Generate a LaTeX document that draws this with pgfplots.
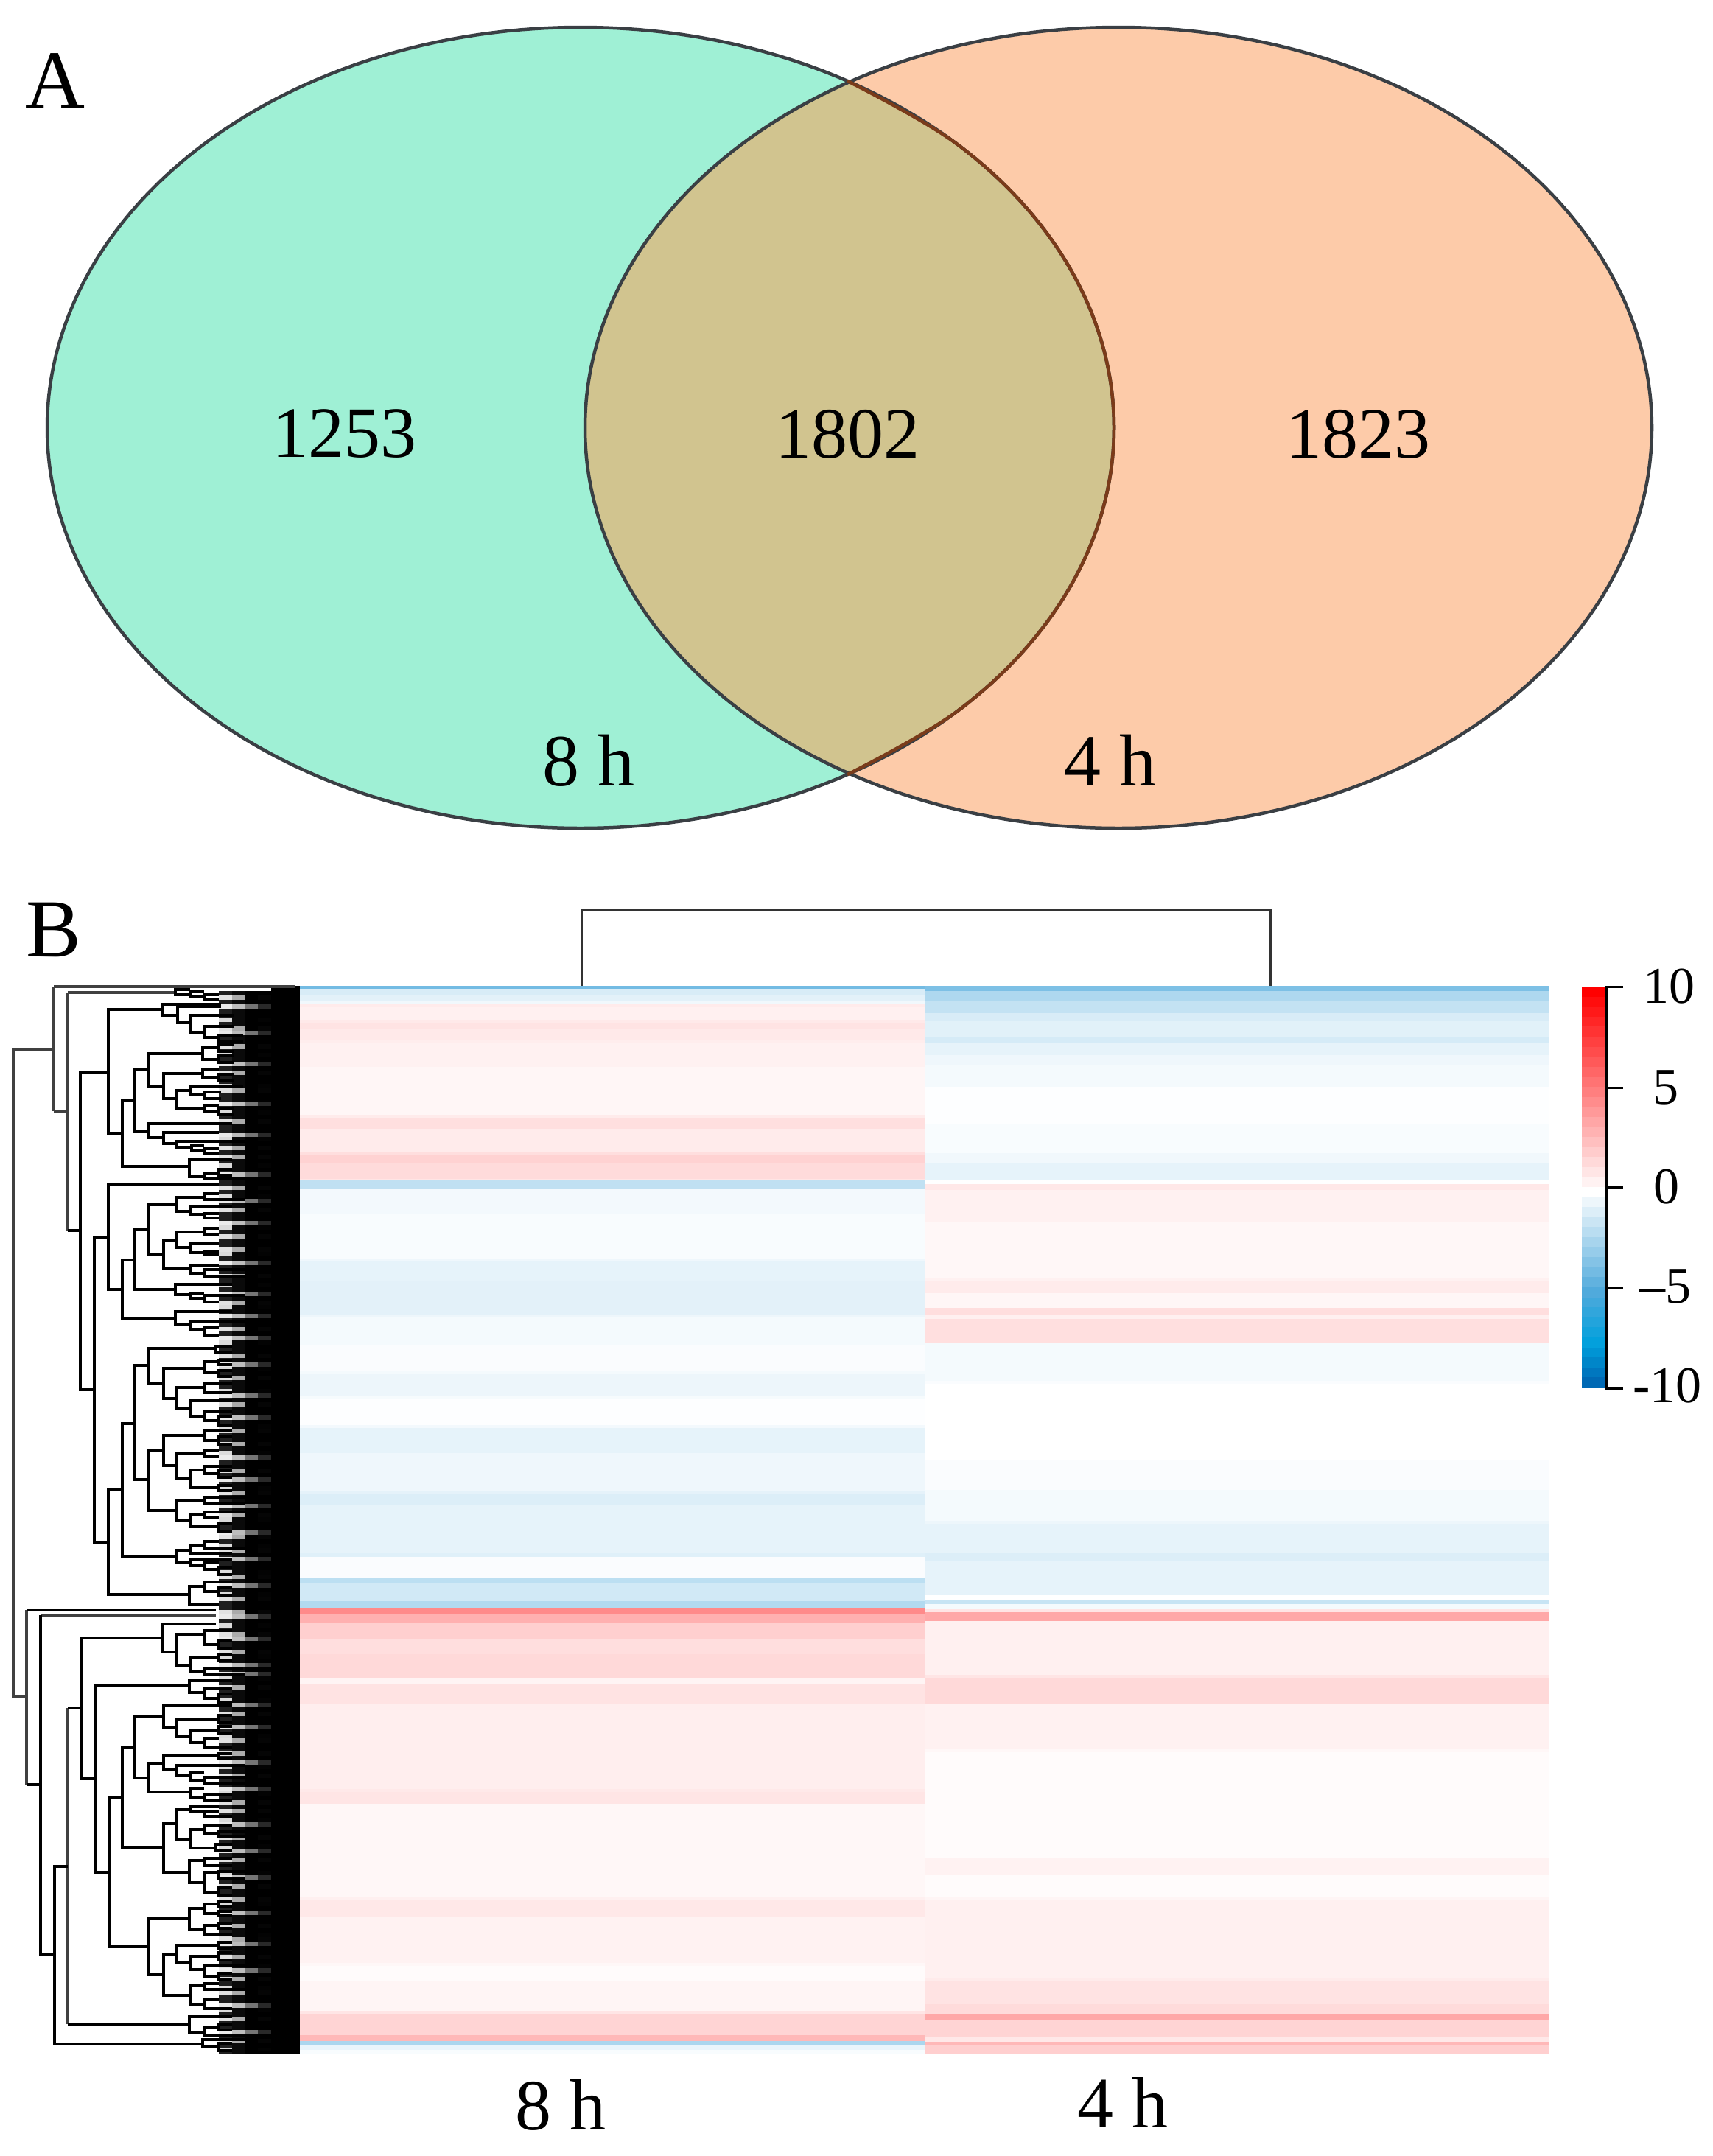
\documentclass[border=0pt]{standalone}
\usepackage{fontspec}
\setmainfont{Liberation Serif}
\usepackage{pgfplots}
\usepackage{pgfplotstable}
\pgfplotsset{compat=1.18}

\definecolor{vennL}{HTML}{9FF0D5}
\definecolor{vennR}{HTML}{FDCBA9}
\definecolor{vennM}{HTML}{D1C48F}
\definecolor{vennE}{HTML}{3A3F44}
\definecolor{vennB}{HTML}{7A3B1A}

% grey scales for the leaf streaks of the row dendrogram
\pgfplotsset{
  colormap={leafA}{gray(0pt)=(.12); gray(3pt)=(.12); gray(5pt)=(.85); gray(20pt)=(.92)},
  colormap={leafB}{gray(0pt)=(.04); gray(8pt)=(.04); gray(12pt)=(.66); gray(20pt)=(.74)},
  colormap={leafC}{gray(0pt)=(0); gray(14pt)=(0); gray(18pt)=(.4); gray(20pt)=(.46)},
  colormap={leafD}{gray(0pt)=(0); gray(14pt)=(.02); gray(18pt)=(.12); gray(20pt)=(.16)},
}

% heatmap bands: y = top of the band, v = value
\pgfplotstableread{
y v
1338 -4
1342 -1.1
1350 -0.8
1358 -0.4
1363 0.8
1367 0.6
1384 0.85
1388 1.1
1397 0.85
1411 0.7
1415 0.55
1448 0.35
1513 0.8
1517 1.25
1532 0.8
1564 1.3
1568 1.75
1578 1.4
1600 1
1602 -1.8
1613 -0.35
1648 -0.2
1708 -0.45
1712 -0.7
1738 -0.8
1784 -0.5
1788 -0.3
1825 -0.15
1861 -0.3
1865 -0.5
1894 -0.25
1898 -0.05
1934 -0.35
1938 -0.7
1972 -0.45
2024 -0.75
2028 -1
2042 -0.7
2108 -0.9
2113 -0.15
2142 -1.9
2148 -1.3
2173 -2.2
2182 4.6
2190 3.1
2202 1.9
2225 1.3
2245 1.5
2277 0.45
2286 1.1
2312 0.65
2428 0.85
2432 1
2448 0.3
2574 0.6
2578 0.9
2602 0.5
2664 0.3
2668 0.15
2688 0.4
2729 1
2733 1.7
2762 2.8
2770 -2.4
2775 -0.6
2782 -0.2
2788 0
}\heatA
\pgfplotstableread{
y v
1338 -3.7
1345 -2.3
1358 -1.7
1375 -1.1
1385 -0.85
1408 -1.2
1415 -0.7
1432 -0.45
1445 -0.3
1475 -0.05
1525 -0.2
1565 -0.4
1578 -0.7
1602 0
1607 0.9
1615 0.55
1658 0.3
1734 0.55
1738 0.8
1755 0.35
1775 1.3
1785 0.6
1790 1.25
1822 -0.3
1874 -0.15
1878 0
1982 -0.15
2022 -0.3
2064 -0.5
2068 -0.7
2108 -1
2118 -0.7
2165 0
2172 -1.6
2177 -0.3
2183 1
2188 3.4
2200 0.6
2273 1
2277 1.5
2312 0.55
2374 0.3
2378 0.15
2522 0.5
2545 0.15
2574 0.4
2578 0.6
2684 0.8
2688 1.1
2720 1.4
2733 3.4
2741 1.7
2765 0.9
2771 2.8
2775 1.9
2788 1.9
}\heatB

% colour scale beside the heatmap
\pgfplotstableread[row sep=\\]{
y v\\
1339 10\\1352.6 9.5\\1366.2 9\\1379.8 8.5\\1393.4 8\\1407 7.5\\1420.6 7\\1434.2 6.5\\1447.8 6\\1461.4 5.5\\1475 5\\1488.6 4.5\\1502.2 4\\1515.8 3.5\\1529.4 3\\1543 2.5\\1556.6 2\\1570.2 1.5\\1583.8 1\\1597.4 0.5\\1611 0\\1624.6 -0.5\\1638.2 -1\\1651.8 -1.5\\1665.4 -2\\1679 -2.5\\1692.6 -3\\1706.2 -3.5\\1719.8 -4\\1733.4 -4.5\\1747 -5\\1760.6 -5.5\\1774.2 -6\\1787.8 -6.5\\1801.4 -7\\1815 -7.5\\1828.6 -8\\1842.2 -8.5\\1855.8 -9\\1869.4 -9.5\\1884 -10\\
}\scalebar

% streaks among the leaves: y, and how far to the right the gap runs
\pgfplotstableread[row sep=\\]{
y v\\
1345 -10\\1351 3\\1357 -10\\1363 10\\1369 -10\\1375 -10\\1381 -3\\1387 -10\\1393 3\\1399 10\\1405 -10\\1411 -10\\1417 3\\1423 -10\\1429 -3\\1435 -10\\1441 10\\1447 -10\\1453 3\\1459 -10\\1465 -10\\1471 -3\\1477 3\\1483 -10\\1489 -10\\1495 10\\1501 -10\\1507 -3\\1513 -10\\1519 3\\1525 -10\\1531 -10\\1537 10\\1543 -3\\1549 -10\\1555 3\\1561 -10\\
1567 3\\1573 -10\\1579 -3\\1585 -10\\1591 10\\1597 -10\\1603 -10\\1609 3\\1615 -10\\1621 -3\\1627 10\\1633 -10\\1639 3\\1645 -10\\1651 -10\\1657 10\\1663 -3\\1669 -10\\1675 3\\1681 -10\\1687 -10\\1693 3\\1699 -3\\1705 -10\\1711 10\\1717 -10\\1723 -10\\1729 3\\1735 -10\\1741 -3\\1747 -10\\1753 10\\1759 -10\\1765 3\\1771 -3\\1777 -10\\1783 10\\
1789 -10\\1795 -10\\1801 3\\1807 -10\\1813 10\\1819 -3\\1825 -10\\1831 -10\\1837 3\\1843 -10\\1849 10\\1855 -3\\1861 -10\\1867 3\\1873 -10\\1879 -10\\1885 -3\\1891 10\\1897 -10\\1903 3\\1909 -10\\1915 -10\\1921 10\\1927 -10\\1933 -3\\1939 3\\1945 -10\\1951 -10\\1957 3\\1963 -10\\1969 -3\\1975 10\\1981 -10\\1987 -10\\1993 3\\1999 -10\\2005 10\\
2011 -10\\2017 -3\\2023 3\\2029 -10\\2035 -10\\2041 10\\2047 -10\\2053 3\\2059 -3\\2065 -10\\2071 -10\\2077 10\\2083 3\\2089 -10\\2095 -3\\2101 3\\2107 -10\\2113 10\\2119 -10\\2125 -10\\2131 -3\\2137 3\\2143 -10\\2149 10\\2155 -10\\2161 -3\\2167 3\\2173 -10\\2179 -10\\2185 3\\2191 10\\2197 -10\\2203 -3\\2209 -10\\2215 3\\2221 10\\2227 -10\\
2233 -10\\2239 3\\2245 -3\\2251 -10\\2257 10\\2263 -10\\2269 10\\2275 -3\\2281 -10\\2287 3\\2293 -10\\2299 -10\\2305 -3\\2311 10\\2317 -10\\2323 3\\2329 -10\\2335 -10\\2341 10\\2347 -10\\2353 -3\\2359 3\\2365 -10\\2371 -10\\2377 3\\2383 -10\\2389 10\\2395 -3\\2401 -10\\2407 3\\2413 -10\\2419 -10\\2425 10\\2431 -3\\2437 -10\\2443 3\\2449 -10\\
2455 3\\2461 -10\\2467 -3\\2473 10\\2479 -10\\2485 -10\\2491 3\\2497 -10\\2503 -3\\2509 10\\2515 -10\\2521 3\\2527 -10\\2533 -10\\2539 -3\\2545 10\\2551 -10\\2557 3\\2563 -10\\2569 -10\\2575 3\\2581 -3\\2587 -10\\2593 10\\2599 -10\\2605 -10\\2611 3\\2617 -10\\2623 -3\\2629 3\\2635 10\\2641 -10\\2647 -10\\2653 3\\2659 -10\\2665 -3\\2671 10\\
2677 -10\\2683 3\\2689 -10\\2695 -3\\2701 3\\2707 -10\\2713 -10\\2719 10\\2725 -3\\2731 -10\\2737 3\\2743 -10\\2749 -10\\2755 10\\2761 -10\\2767 3\\2773 -10\\2779 -3\\2783 -10\\2787 -10\\
}\leafs

\begin{document}
\begin{tikzpicture}
\begin{axis}[
    name=main,
    scale only axis, width=2325pt, height=2926pt,
    xmin=0, xmax=2325, ymin=0, ymax=2926, y dir=reverse,
    hide axis, clip=false,
    unbounded coords=jump,
    colormap={heat}{rgb255(0pt)=(0,90,170); rgb255(2.4pt)=(0,160,220); rgb255(5pt)=(80,170,220); rgb255(10pt)=(255,255,255); rgb255(20pt)=(255,0,0)},
    point meta min=-10, point meta max=10,
]

% venn
\addplot[fill=vennL, draw=none, smooth cycle, tension=0.61] coordinates {
(1512,580.5)(1487.3,439.8)(1415,308.7)(1299.9,196.2)(1150,109.8)(975.4,55.5)(788,37)(600.6,55.5)(426,109.8)(276.1,196.2)(161,308.7)(88.7,439.8)(64,580.5)(88.7,721.2)(161,852.3)(276.1,964.8)(426,1051.2)(600.6,1105.5)(788,1124)(975.4,1105.5)(1150,1051.2)(1299.9,964.8)(1415,852.3)(1487.3,721.2)};
\addplot[fill=vennR, draw=none, smooth cycle, tension=0.61] coordinates {
(2242,580.5)(2217.3,439.8)(2145,308.7)(2029.9,196.2)(1880,109.8)(1705.4,55.5)(1518,37)(1330.6,55.5)(1156,109.8)(1006.1,196.2)(891,308.7)(818.7,439.8)(794,580.5)(818.7,721.2)(891,852.3)(1006.1,964.8)(1156,1051.2)(1330.6,1105.5)(1518,1124)(1705.4,1105.5)(1880,1051.2)(2029.9,964.8)(2145,852.3)(2217.3,721.2)};
\addplot[fill=vennM, draw=vennM, line width=1pt, smooth, tension=0.61] coordinates {
(1150,109.8)(1299.9,196.2)(1415,308.7)(1487.3,439.8)(1512,580.5)(1487.3,721.2)(1415,852.3)(1299.9,964.8)(1150,1051.2)};
\addplot[fill=vennM, draw=vennM, line width=1pt, smooth, tension=0.61] coordinates {
(1156,109.8)(1006.1,196.2)(891,308.7)(818.7,439.8)(794,580.5)(818.7,721.2)(891,852.3)(1006.1,964.8)(1156,1051.2)};
\addplot[draw=vennE, line width=4.5pt, smooth cycle, tension=0.61] coordinates {
(1512,580.5)(1487.3,439.8)(1415,308.7)(1299.9,196.2)(1150,109.8)(975.4,55.5)(788,37)(600.6,55.5)(426,109.8)(276.1,196.2)(161,308.7)(88.7,439.8)(64,580.5)(88.7,721.2)(161,852.3)(276.1,964.8)(426,1051.2)(600.6,1105.5)(788,1124)(975.4,1105.5)(1150,1051.2)(1299.9,964.8)(1415,852.3)(1487.3,721.2)};
\addplot[draw=vennE, line width=4.5pt, smooth cycle, tension=0.61] coordinates {
(2242,580.5)(2217.3,439.8)(2145,308.7)(2029.9,196.2)(1880,109.8)(1705.4,55.5)(1518,37)(1330.6,55.5)(1156,109.8)(1006.1,196.2)(891,308.7)(818.7,439.8)(794,580.5)(818.7,721.2)(891,852.3)(1006.1,964.8)(1156,1051.2)(1330.6,1105.5)(1518,1124)(1705.4,1105.5)(1880,1051.2)(2029.9,964.8)(2145,852.3)(2217.3,721.2)};
\addplot[draw=vennB, line width=4.5pt, smooth, tension=0.61] coordinates {
(1150,109.8)(1299.9,196.2)(1415,308.7)(1487.3,439.8)(1512,580.5)(1487.3,721.2)(1415,852.3)(1299.9,964.8)(1150,1051.2)};

% heatmap columns, as one wide line per column
\addplot[mesh, shader=flat corner, line width=849pt, point meta=\thisrow{v}] table[x expr=831.5, y=y] {\heatA};
\addplot[mesh, shader=flat corner, line width=847pt, point meta=\thisrow{v}] table[x expr=1679.5, y=y] {\heatB};

% colour scale
\addplot[mesh, shader=flat corner, line width=33pt, point meta=\thisrow{v}] table[x expr=2163.5, y=y] {\scalebar};
\addplot[draw=black, line width=3pt] coordinates {
(2203,1339)(2180,1339)(2180,1884)(2203,1884)(nan,nan)
(2180,1476)(2203,1476)(nan,nan)
(2180,1611)(2203,1611)(nan,nan)
(2180,1748)(2203,1748)(nan,nan)
};

% column dendrogram
\addplot[draw=black!80, line width=3pt] coordinates {(789,1338)(789,1234)(1724,1234)(1724,1338)};

% leaves of the row dendrogram
\addplot[mesh, shader=flat corner, colormap name=leafA, line width=18pt, point meta=\thisrow{v}] table[x expr=306, y=y] {\leafs};
\addplot[mesh, shader=flat corner, colormap name=leafB, line width=18pt, point meta=\thisrow{v}] table[x expr=324, y=y] {\leafs};
\addplot[mesh, shader=flat corner, colormap name=leafC, line width=17pt, point meta=\thisrow{v}] table[x expr=341.5, y=y] {\leafs};
\addplot[mesh, shader=flat corner, colormap name=leafD, line width=18pt, point meta=\thisrow{v}] table[x expr=359, y=y] {\leafs};
\addplot[fill=black, draw=none] coordinates {(368,1338)(407,1338)(407,2787)(368,2787)};

% row dendrogram, outer branches
\addplot[draw=black!75, line width=4.5pt] coordinates {
(73,1424)(18,1424)(18,2303)(36,2303)(nan,nan)
(92,1347)(92,1670)(nan,nan)
(73,1508)(92,1508)(nan,nan)
(92,2318)(92,2747)(nan,nan)
(74,2533)(92,2533)(nan,nan)
(73,1339)(400,1339)(nan,nan)
(73,1339)(73,1508)(nan,nan)
(92,1347)(238,1347)(nan,nan)
(36,2185)(293,2185)(nan,nan)
(36,2185)(36,2422)(nan,nan)
(55,2192)(293,2192)(nan,nan)
};
% row dendrogram, inner branches
\addplot[draw=black, line width=3.2pt] coordinates {
(92,1670)(109,1670)(nan,nan)
(147,1455)(109,1455)(109,1886)(128,1886)(nan,nan)
(220,1370)(147,1370)(147,1538)(166,1538)(nan,nan)
(300,1363)(220,1363)(220,1378)(241,1378)(nan,nan)
(300,1366)(241,1366)(241,1388)(258,1388)(nan,nan)
(317,1378)(258,1378)(258,1401)(277,1401)(nan,nan)
(317,1393)(277,1393)(277,1408)(297,1408)(nan,nan)
(330,1405)(297,1405)(297,1413)(330,1413)(nan,nan)
(183,1494)(166,1494)(166,1583)(257,1583)(nan,nan)
(202,1452)(183,1452)(183,1535)(202,1535)(nan,nan)
(275,1430)(202,1430)(202,1474)(222,1474)(nan,nan)
(297,1422)(275,1422)(275,1438)(297,1438)(nan,nan)
(317,1418)(297,1418)(297,1427)(317,1427)(nan,nan)
(317,1433)(297,1433)(297,1442)(317,1442)(nan,nan)
(275,1457)(222,1457)(222,1491)(240,1491)(nan,nan)
(297,1452)(275,1452)(275,1462)(297,1462)(nan,nan)
(317,1458)(297,1458)(297,1466)(317,1466)(nan,nan)
(258,1480)(240,1480)(240,1504)(277,1504)(nan,nan)
(330,1475)(258,1475)(258,1486)(277,1486)(nan,nan)
(300,1482)(277,1482)(277,1491)(300,1491)(nan,nan)
(297,1500)(277,1500)(277,1508)(297,1508)(nan,nan)
(317,1505)(297,1505)(297,1513)(317,1513)(nan,nan)
(315,1525)(202,1525)(202,1544)(222,1544)(nan,nan)
(297,1537)(222,1537)(222,1552)(240,1552)(nan,nan)
(333,1549)(240,1549)(240,1557)(260,1557)(nan,nan)
(277,1555)(260,1555)(260,1562)(277,1562)(nan,nan)
(297,1559)(277,1559)(277,1566)(297,1566)(nan,nan)
(315,1573)(257,1573)(257,1597)(277,1597)(nan,nan)
(297,1592)(277,1592)(277,1600)(333,1600)(nan,nan)
(315,1587)(297,1587)(297,1595)(315,1595)(nan,nan)
(258,1343)(238,1343)(238,1350)(258,1350)(nan,nan)
(277,1346)(258,1346)(258,1352)(277,1352)(nan,nan)
(297,1350)(277,1350)(277,1357)(297,1357)(nan,nan)
(147,1679)(128,1679)(128,2093)(147,2093)(nan,nan)
(297,1608)(147,1608)(147,1750)(166,1750)(nan,nan)
(183,1710)(166,1710)(166,1789)(238,1789)(nan,nan)
(202,1668)(183,1668)(183,1750)(238,1750)(nan,nan)
(240,1635)(202,1635)(202,1703)(222,1703)(nan,nan)
(277,1625)(240,1625)(240,1644)(258,1644)(nan,nan)
(297,1620)(277,1620)(277,1628)(333,1628)(nan,nan)
(315,1638)(258,1638)(258,1648)(277,1648)(nan,nan)
(297,1647)(277,1647)(277,1653)(297,1653)(nan,nan)
(240,1683)(222,1683)(222,1722)(258,1722)(nan,nan)
(277,1672)(240,1672)(240,1693)(258,1693)(nan,nan)
(297,1667)(277,1667)(277,1675)(297,1675)(nan,nan)
(297,1688)(258,1688)(258,1700)(277,1700)(nan,nan)
(297,1698)(277,1698)(277,1703)(297,1703)(nan,nan)
(297,1718)(258,1718)(258,1728)(277,1728)(nan,nan)
(333,1723)(277,1723)(277,1733)(333,1733)(nan,nan)
(315,1743)(238,1743)(238,1757)(258,1757)(nan,nan)
(277,1755)(258,1755)(258,1762)(277,1762)(nan,nan)
(333,1758)(277,1758)(277,1767)(297,1767)(nan,nan)
(315,1780)(238,1780)(238,1798)(258,1798)(nan,nan)
(333,1793)(258,1793)(258,1804)(277,1804)(nan,nan)
(297,1802)(277,1802)(277,1812)(297,1812)(nan,nan)
(166,2022)(147,2022)(147,2164)(257,2164)(nan,nan)
(183,1932)(166,1932)(166,2112)(240,2112)(nan,nan)
(202,1853)(183,1853)(183,2008)(202,2008)(nan,nan)
(293,1830)(202,1830)(202,1877)(222,1877)(nan,nan)
(315,1827)(293,1827)(293,1835)(315,1835)(nan,nan)
(277,1857)(222,1857)(222,1898)(240,1898)(nan,nan)
(297,1848)(277,1848)(277,1863)(297,1863)(nan,nan)
(315,1846)(297,1846)(297,1852)(315,1852)(nan,nan)
(315,1860)(297,1860)(297,1868)(315,1868)(nan,nan)
(277,1883)(240,1883)(240,1912)(258,1912)(nan,nan)
(315,1878)(277,1878)(277,1890)(315,1890)(nan,nan)
(315,1901)(258,1901)(258,1922)(277,1922)(nan,nan)
(315,1915)(277,1915)(277,1928)(297,1928)(nan,nan)
(315,1922)(297,1922)(297,1935)(315,1935)(nan,nan)
(222,1969)(202,1969)(202,2050)(240,2050)(nan,nan)
(277,1948)(222,1948)(222,1989)(240,1989)(nan,nan)
(315,1942)(277,1942)(277,1955)(297,1955)(nan,nan)
(315,1950)(297,1950)(297,1960)(315,1960)(nan,nan)
(277,1972)(240,1972)(240,2007)(258,2007)(nan,nan)
(297,1968)(277,1968)(277,1977)(297,1977)(nan,nan)
(277,1995)(258,1995)(258,2019)(297,2019)(nan,nan)
(315,1990)(277,1990)(277,2000)(297,2000)(nan,nan)
(315,1996)(297,1996)(297,2005)(315,2005)(nan,nan)
(315,2016)(297,2016)(297,2023)(315,2023)(nan,nan)
(277,2036)(240,2036)(240,2063)(258,2063)(nan,nan)
(333,2032)(277,2032)(277,2040)(333,2040)(nan,nan)
(277,2055)(258,2055)(258,2072)(297,2072)(nan,nan)
(333,2052)(277,2052)(277,2060)(297,2060)(nan,nan)
(315,2068)(297,2068)(297,2078)(315,2078)(nan,nan)
(258,2104)(240,2104)(240,2120)(258,2120)(nan,nan)
(277,2098)(258,2098)(258,2108)(315,2108)(nan,nan)
(297,2092)(277,2092)(277,2102)(333,2102)(nan,nan)
(315,2117)(258,2117)(258,2125)(277,2125)(nan,nan)
(297,2120)(277,2120)(277,2130)(297,2130)(nan,nan)
(315,2127)(297,2127)(297,2137)(315,2137)(nan,nan)
(277,2153)(257,2153)(257,2177)(297,2177)(nan,nan)
(315,2147)(277,2147)(277,2160)(297,2160)(nan,nan)
(315,2155)(297,2155)(297,2165)(315,2165)(nan,nan)
(128,1679)(128,2093)(nan,nan)
(293,2185)(36,2185)(nan,nan)
(36,2422)(55,2422)(nan,nan)
(55,2192)(55,2653)(73,2653)(nan,nan)
(92,2533)(74,2533)(74,2774)(275,2774)(nan,nan)
(109,2318)(92,2318)(nan,nan)
(92,2747)(257,2747)(nan,nan)
(220,2223)(110,2223)(110,2414)(129,2414)(nan,nan)
(293,2204)(220,2204)(220,2242)(240,2242)(nan,nan)
(277,2218)(240,2218)(240,2260)(258,2260)(nan,nan)
(315,2213)(277,2213)(277,2232)(297,2232)(nan,nan)
(315,2226)(297,2226)(297,2237)(315,2237)(nan,nan)
(297,2250)(258,2250)(258,2268)(277,2268)(nan,nan)
(315,2246)(297,2246)(297,2253)(315,2253)(nan,nan)
(330,2265)(277,2265)(277,2272)(333,2272)(nan,nan)
(257,2288)(129,2288)(129,2541)(148,2541)(nan,nan)
(315,2281)(257,2281)(257,2297)(277,2297)(nan,nan)
(315,2292)(277,2292)(277,2305)(297,2305)(nan,nan)
(315,2299)(297,2299)(297,2311)(315,2311)(nan,nan)
(166,2440)(148,2440)(148,2642)(202,2642)(nan,nan)
(183,2372)(166,2372)(166,2507)(222,2507)(nan,nan)
(222,2330)(183,2330)(183,2413)(202,2413)(nan,nan)
(315,2315)(222,2315)(222,2345)(240,2345)(nan,nan)
(297,2333)(240,2333)(240,2357)(258,2357)(nan,nan)
(315,2328)(297,2328)(297,2338)(315,2338)(nan,nan)
(297,2348)(258,2348)(258,2365)(277,2365)(nan,nan)
(315,2343)(297,2343)(297,2353)(315,2353)(nan,nan)
(297,2360)(277,2360)(277,2372)(315,2372)(nan,nan)
(222,2393)(202,2393)(202,2432)(258,2432)(nan,nan)
(297,2383)(222,2383)(222,2402)(240,2402)(nan,nan)
(315,2380)(297,2380)(297,2387)(315,2387)(nan,nan)
(333,2396)(240,2396)(240,2410)(258,2410)(nan,nan)
(277,2405)(258,2405)(258,2417)(277,2417)(nan,nan)
(333,2412)(277,2412)(277,2420)(333,2420)(nan,nan)
(277,2427)(258,2427)(258,2440)(277,2440)(nan,nan)
(315,2435)(277,2435)(277,2443)(315,2443)(nan,nan)
(240,2475)(222,2475)(222,2541)(257,2541)(nan,nan)
(258,2456)(240,2456)(240,2496)(258,2496)(nan,nan)
(297,2452)(258,2452)(258,2459)(277,2459)(nan,nan)
(297,2458)(277,2458)(277,2465)(315,2465)(nan,nan)
(277,2483)(258,2483)(258,2508)(293,2508)(nan,nan)
(315,2477)(277,2477)(277,2488)(297,2488)(nan,nan)
(333,2485)(297,2485)(297,2492)(333,2492)(nan,nan)
(315,2503)(293,2503)(293,2512)(315,2512)(nan,nan)
(277,2525)(257,2525)(257,2555)(277,2555)(nan,nan)
(315,2522)(277,2522)(277,2532)(315,2532)(nan,nan)
(297,2541)(277,2541)(277,2568)(297,2568)(nan,nan)
(333,2540)(297,2540)(297,2550)(333,2550)(nan,nan)
(315,2562)(297,2562)(297,2573)(315,2573)(nan,nan)
(257,2604)(202,2604)(202,2680)(222,2680)(nan,nan)
(277,2590)(257,2590)(257,2618)(277,2618)(nan,nan)
(297,2584)(277,2584)(277,2597)(297,2597)(nan,nan)
(297,2613)(277,2613)(277,2625)(315,2625)(nan,nan)
(315,2580)(297,2580)(297,2588)(315,2588)(nan,nan)
(315,2594)(297,2594)(297,2600)(315,2600)(nan,nan)
(315,2610)(297,2610)(297,2617)(315,2617)(nan,nan)
(240,2652)(222,2652)(222,2708)(258,2708)(nan,nan)
(297,2640)(240,2640)(240,2664)(258,2664)(nan,nan)
(315,2636)(297,2636)(297,2645)(315,2645)(nan,nan)
(297,2655)(258,2655)(258,2673)(277,2673)(nan,nan)
(315,2650)(297,2650)(297,2660)(315,2660)(nan,nan)
(333,2668)(277,2668)(277,2682)(297,2682)(nan,nan)
(315,2678)(297,2678)(297,2687)(315,2687)(nan,nan)
(277,2694)(258,2694)(258,2720)(277,2720)(nan,nan)
(297,2692)(277,2692)(277,2700)(333,2700)(nan,nan)
(297,2713)(277,2713)(277,2726)(315,2726)(nan,nan)
(315,2737)(257,2737)(257,2758)(277,2758)(nan,nan)
(297,2752)(277,2752)(277,2763)(333,2763)(nan,nan)
(315,2747)(297,2747)(297,2755)(315,2755)(nan,nan)
(333,2768)(275,2768)(275,2778)(297,2778)(nan,nan)
(315,2773)(297,2773)(297,2783)(315,2783)(nan,nan)
};

% text
\node[inner sep=0pt, font=\fontsize{112}{120}\selectfont] at (axis cs:75,110) {A};
\node[inner sep=0pt, font=\fontsize{112}{120}\selectfont] at (axis cs:73,1262) {B};
\node[inner sep=0pt, font=\fontsize{98}{110}\selectfont] at (axis cs:467,589) {1253};
\node[inner sep=0pt, font=\fontsize{98}{110}\selectfont] at (axis cs:1150,589) {1802};
\node[inner sep=0pt, font=\fontsize{98}{110}\selectfont] at (axis cs:1843,589) {1823};
\node[inner sep=0pt, font=\fontsize{100}{110}\selectfont] at (axis cs:799,1032) {8 h};
\node[inner sep=0pt, font=\fontsize{100}{110}\selectfont] at (axis cs:1507,1032) {4 h};
\node[inner sep=0pt, font=\fontsize{98}{110}\selectfont] at (axis cs:761,2857) {8 h};
\node[inner sep=0pt, font=\fontsize{98}{110}\selectfont] at (axis cs:1524,2853) {4 h};
\node[inner sep=0pt, font=\fontsize{70}{80}\selectfont] at (axis cs:2265,1339) {10};
\node[inner sep=0pt, font=\fontsize{70}{80}\selectfont] at (axis cs:2261,1476) {5};
\node[inner sep=0pt, font=\fontsize{70}{80}\selectfont] at (axis cs:2262,1611) {0};
\node[inner sep=0pt, font=\fontsize{70}{80}\selectfont] at (axis cs:2260,1746) {–5};
\node[inner sep=0pt, font=\fontsize{70}{80}\selectfont] at (axis cs:2263,1881) {-10};
\end{axis}
\pgfresetboundingbox
\path[use as bounding box] (main.south west) rectangle (main.north east);
\end{tikzpicture}
\end{document}
